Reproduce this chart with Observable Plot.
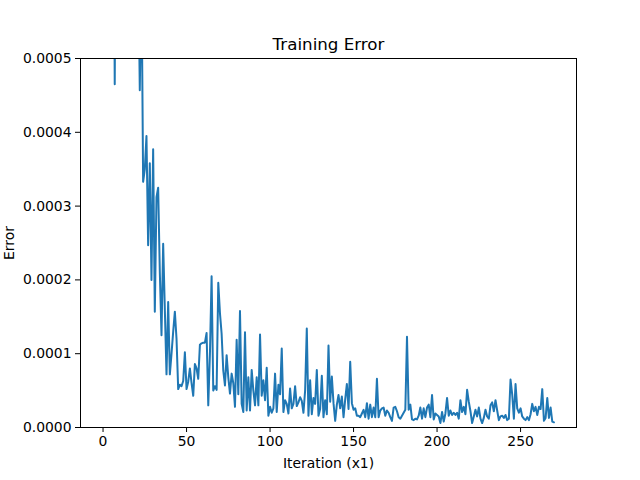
<!DOCTYPE html>
<html>
<head>
<meta charset="utf-8">
<script src="https://cdn.jsdelivr.net/npm/d3@7"></script>
<script src="https://cdn.jsdelivr.net/npm/@observablehq/plot@0.6"></script>
<style>
  html, body { margin: 0; padding: 0; background: #fff; }
  #chart svg { display: block; }
</style>
</head>
<body>
<div id="chart"></div>
<script>
const title = "Training Error";
const xLabel = "Iteration (x1)";
const yLabel = "Error";
const xTicks = [0, 50, 100, 150, 200, 250];
const yTicks = [0, 0.0001, 0.0002, 0.0003, 0.0004, 0.0005];

// Training error per iteration (index = iteration 0..270)
const error = [
  250e-5, 190e-5, 150e-5, 120e-5, 95e-5, 80e-5, 90e-5, 46.5e-5, 95e-5, 80e-5,
  72e-5, 68e-5, 75e-5, 64e-5, 70e-5, 62e-5, 66e-5, 60e-5, 63e-5, 58e-5,
  61e-5, 65e-5, 45.7e-5, 62e-5, 33.3e-5, 35e-5, 39.5e-5, 24.7e-5, 35.8e-5, 20e-5,
  37.7e-5, 15.7e-5, 31.2e-5, 32.5e-5, 21e-5, 12.5e-5, 24.9e-5, 16e-5, 7.2e-5, 17e-5,
  7.2e-5, 10e-5, 13e-5, 15.7e-5, 12e-5, 5.2e-5, 5.8e-5, 5.6e-5, 6.3e-5, 10.2e-5,
  5.2e-5, 6.2e-5, 8e-5, 6e-5, 4.3e-5, 8.6e-5, 8e-5, 6.6e-5, 11.2e-5, 11.4e-5,
  11.5e-5, 11.5e-5, 12.8e-5, 3e-5, 10e-5, 20.5e-5, 5e-5, 5.6e-5, 5.1e-5, 19.6e-5,
  15.5e-5, 12.7e-5, 7.7e-5, 5.7e-5, 9.8e-5, 6.8e-5, 4.6e-5, 7.3e-5, 6e-5, 2.8e-5,
  11.9e-5, 4.5e-5, 15.8e-5, 3.2e-5, 2.1e-5, 12.9e-5, 2.3e-5, 6.8e-5, 2.3e-5, 7.8e-5,
  5e-5, 3e-5, 6.8e-5, 3e-5, 12.6e-5, 4.3e-5, 6.4e-5, 3.7e-5, 8.1e-5, 1.6e-5,
  2.8e-5, 2e-5, 2.6e-5, 7.3e-5, 2.1e-5, 5.8e-5, 4.5e-5, 10.7e-5, 2.1e-5, 3.7e-5,
  3.2e-5, 1.9e-5, 5.3e-5, 2.6e-5, 3.2e-5, 5.6e-5, 2.9e-5, 3.4e-5, 4.1e-5, 3.6e-5,
  2e-5, 5e-5, 13.4e-5, 1.6e-5, 6.4e-5, 1.8e-5, 4e-5, 3.2e-5, 7.8e-5, 1.6e-5,
  2.5e-5, 7e-5, 1.4e-5, 3.7e-5, 1.8e-5, 11.1e-5, 3.5e-5, 6.9e-5, 3.3e-5, 0.9e-5,
  3.1e-5, 4.4e-5, 2.6e-5, 4.2e-5, 1.4e-5, 3.8e-5, 5.9e-5, 2.5e-5, 8.9e-5, 3.3e-5,
  2.4e-5, 2.6e-5, 1.6e-5, 1.6e-5, 1.4e-5, 1.9e-5, 2.4e-5, 1.4e-5, 3.3e-5, 1.2e-5,
  3.1e-5, 1.4e-5, 2.7e-5, 1.4e-5, 6.6e-5, 1.4e-5, 2.3e-5, 2.6e-5, 2.7e-5, 1.6e-5,
  2.3e-5, 2e-5, 1.4e-5, 0.9e-5, 2.7e-5, 2.8e-5, 2.2e-5, 1.4e-5, 1.2e-5, 1.6e-5,
  2e-5, 2.4e-5, 12.3e-5, 2.4e-5, 3.1e-5, 1.1e-5, 1e-5, 1.2e-5, 1.1e-5, 1.6e-5,
  2.7e-5, 1.2e-5, 2.6e-5, 1.4e-5, 2.7e-5, 3.1e-5, 1.4e-5, 4.4e-5, 1.1e-5, 1.9e-5,
  1.7e-5, 1.5e-5, 0.6e-5, 2.1e-5, 0.8e-5, 1.9e-5, 4e-5, 1.6e-5, 2.3e-5, 1.7e-5,
  2e-5, 1.7e-5, 2e-5, 1.2e-5, 3.7e-5, 2.1e-5, 2.8e-5, 1.8e-5, 5.1e-5, 3.5e-5,
  2.2e-5, 0.6e-5, 1.5e-5, 2.4e-5, 1.5e-5, 2.7e-5, 1.2e-5, 0.6e-5, 1.3e-5, 2.4e-5,
  1.5e-5, 1.2e-5, 3e-5, 3.4e-5, 2.2e-5, 3.7e-5, 2.3e-5, 1e-5, 1.5e-5, 1.6e-5,
  1.3e-5, 1.7e-5, 1e-5, 1.2e-5, 6.5e-5, 4.5e-5, 1.2e-5, 5.9e-5, 2.6e-5, 2e-5,
  2.6e-5, 1.5e-5, 1.2e-5, 1e-5, 1.4e-5, 1e-5, 1.8e-5, 3.2e-5, 2.2e-5, 2.8e-5,
  1.7e-5, 2.8e-5, 2.5e-5, 5.2e-5, 0.9e-5, 1.3e-5, 4e-5, 1.3e-5, 2.7e-5, 0.8e-5,
  0.7e-5
];

const chart = Plot.plot({
  width: 640,
  height: 480,
  marginLeft: 80,
  marginRight: 64,
  marginTop: 58,
  marginBottom: 53,
  style: { fontFamily: "DejaVu Sans", fontSize: "13.9px", color: "black", background: "white", overflow: "visible" },
  x: {
    domain: [-13.5, 283.5],
    ticks: xTicks,
    label: xLabel,
    labelAnchor: "center",
    labelArrow: "none",
    labelOffset: 40,
    tickSize: 5,
    tickPadding: 4
  },
  y: {
    domain: [0, 0.0005],
    ticks: yTicks,
    tickFormat: d => d.toFixed(4),
    label: yLabel,
    labelAnchor: "center",
    labelArrow: "none",
    labelOffset: 76,
    tickSize: 5,
    tickPadding: 4
  },
  marks: [
    Plot.line(error, { x: (d, i) => i, y: d => d, stroke: "#1f77b4", strokeWidth: 2, clip: true }),
    Plot.frame({ stroke: "black", strokeWidth: 1 }),
    Plot.text([title], { text: d => d, frameAnchor: "top", dy: -20, fontSize: 16.7, fill: "black" })
  ]
});
document.getElementById("chart").append(chart);
</script>
</body>
</html>
